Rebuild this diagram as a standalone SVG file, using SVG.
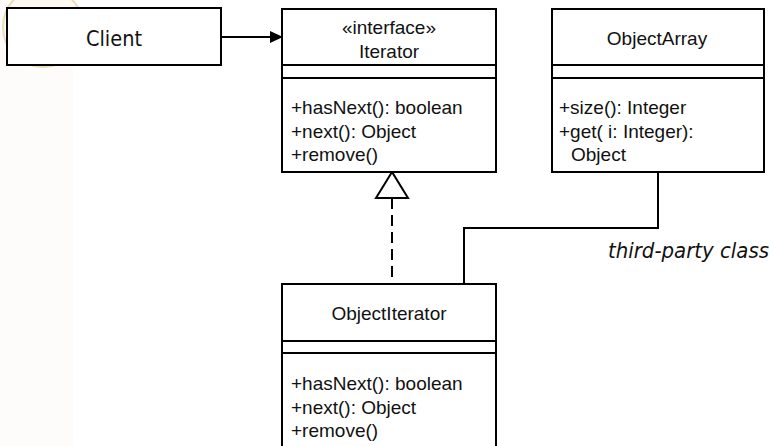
<svg xmlns="http://www.w3.org/2000/svg" width="773" height="446" viewBox="0 0 773 446">
  <defs>
    <style>
      .box { fill: #ffffff; stroke: #000000; stroke-width: 2; }
      .sep { stroke: #000000; stroke-width: 2; }
      .wire { fill: none; stroke: #000000; stroke-width: 2; }
      .uml { font-family: "Liberation Sans", Arial, sans-serif; font-size: 19px; fill: #111111; }
      .mid { text-anchor: middle; }
      .tah { font-family: "DejaVu Sans Condensed", "DejaVu Sans", sans-serif; font-stretch: condensed; fill: #111111; }
    </style>
    <marker id="arrowFilled" markerWidth="13" markerHeight="12" refX="13" refY="6" orient="auto" markerUnits="userSpaceOnUse">
      <path d="M0,0 L13,6 L0,12 Z" fill="#000000"/>
    </marker>
  </defs>

  <!-- page background and decorative corner mark -->
  <rect x="0" y="0" width="773" height="446" fill="#ffffff"/>
  <rect x="0" y="0" width="73" height="446" fill="#fdfcfa"/>
  <circle cx="43" cy="27" r="40" fill="#fdf9f1" stroke="#ecdcb8" stroke-width="2"/>

  <!-- connectors -->
  <g id="connectors">
    <line class="wire" x1="221" y1="37" x2="283" y2="37" marker-end="url(#arrowFilled)"/>
    <line class="wire" x1="392" y1="198" x2="392" y2="284" stroke-dasharray="11,6"/>
    <polygon points="392,172 376,198 408,198" fill="#ffffff" stroke="#000000" stroke-width="2"/>
    <polyline class="wire" points="658,172 658,228 464,228 464,284"/>
  </g>

  <!-- Client -->
  <g id="client">
    <rect class="box" x="7" y="8" width="214" height="57"/>
    <text class="tah mid" x="114" y="46" font-size="21.5">Client</text>
  </g>

  <!-- Iterator interface -->
  <g id="iterator">
    <rect class="box" x="282" y="9" width="214" height="163"/>
    <line class="sep" x1="282" y1="65" x2="496" y2="65"/>
    <line class="sep" x1="282" y1="78" x2="496" y2="78"/>
    <text class="uml mid" x="389" y="34">«interface»</text>
    <text class="uml mid" x="389" y="58">Iterator</text>
    <text class="uml" x="291" y="114">+hasNext(): boolean</text>
    <text class="uml" x="291" y="138">+next(): Object</text>
    <text class="uml" x="291" y="161">+remove()</text>
  </g>

  <!-- ObjectArray -->
  <g id="objectArray">
    <rect class="box" x="552" y="9" width="212" height="163"/>
    <line class="sep" x1="552" y1="65" x2="764" y2="65"/>
    <line class="sep" x1="552" y1="78" x2="764" y2="78"/>
    <text class="uml mid" x="657" y="45">ObjectArray</text>
    <text class="uml" x="559" y="114">+size(): Integer</text>
    <text class="uml" x="559" y="138">+get( i: Integer):</text>
    <text class="uml" x="571" y="161">Object</text>
  </g>

  <!-- ObjectIterator -->
  <g id="objectIterator">
    <rect class="box" x="282" y="284" width="214" height="172"/>
    <line class="sep" x1="282" y1="341" x2="496" y2="341"/>
    <line class="sep" x1="282" y1="353" x2="496" y2="353"/>
    <text class="uml mid" x="389" y="320">ObjectIterator</text>
    <text class="uml" x="291" y="390">+hasNext(): boolean</text>
    <text class="uml" x="291" y="414">+next(): Object</text>
    <text class="uml" x="291" y="437">+remove()</text>
  </g>

  <!-- note -->
  <g id="note">
    <text class="tah" x="608" y="258" font-size="21" font-style="italic" textLength="161" lengthAdjust="spacingAndGlyphs">third-party class</text>
  </g>
</svg>
